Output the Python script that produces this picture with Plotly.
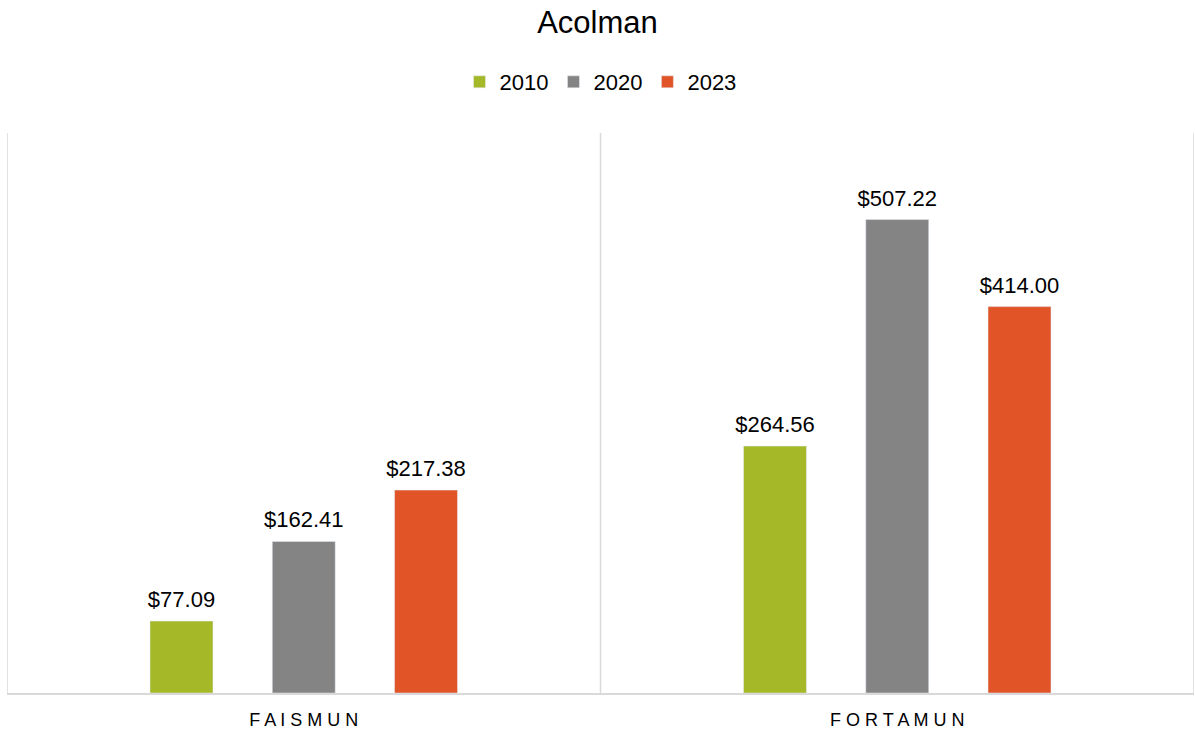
import plotly.graph_objects as go

categories = ["FAISMUN", "FORTAMUN"]
years = ["2010", "2020", "2023"]
values_2010 = [77.09, 264.56]
values_2020 = [162.41, 507.22]
values_2023 = [217.38, 414.00]
colors = ["#A5B828", "#848484", "#E05428"]

series = [values_2010, values_2020, values_2023]
ticktext = [" ".join(c) for c in categories]

fig = go.Figure()
for name, vals, col in zip(years, series, colors):
    fig.add_trace(go.Bar(
        x=categories, y=vals, name=name, marker_color=col,
        offsetgroup=name, hoverinfo="skip",
    ))
for name, vals in zip(years, series):
    fig.add_trace(go.Scatter(
        x=categories, y=vals, mode="markers+text", offsetgroup=name,
        marker=dict(size=12, opacity=0), text=[f"${v:.2f}" for v in vals],
        textposition="top center", textfont=dict(size=22, color="#000000"),
        showlegend=False, hoverinfo="skip", cliponaxis=False,
    ))

for xb in [-0.5, 0.5, 1.5]:
    fig.add_shape(type="line", xref="x", yref="paper", x0=xb, x1=xb, y0=0, y1=1,
                  line=dict(color="#D9D9D9", width=1.5))

fig.update_layout(
    width=1195, height=731,
    paper_bgcolor="white", plot_bgcolor="white",
    font=dict(family="Liberation Sans, Arial, sans-serif", color="#000000"),
    title=dict(text="Acolman", x=0.5, xanchor="center", y=0.97, yanchor="middle",
               font=dict(size=31, color="#000000")),
    legend=dict(orientation="h", x=0.5, xanchor="center", y=1.091, yanchor="middle",
                font=dict(size=22), traceorder="normal", itemwidth=30),
    margin=dict(l=7, r=1, t=133, b=38),
    barmode="group", scattermode="group",
    bargap=0.382, bargroupgap=0.485, scattergap=0.382,
    showlegend=True,
)
fig.update_xaxes(tickvals=categories, ticktext=ticktext, showline=True, linecolor="#D9D9D9",
                 linewidth=2, tickfont=dict(size=18, color="#000000"), showgrid=False,
                 range=[-0.5, 1.5], ticks="", ticklabelstandoff=9)
fig.update_yaxes(range=[0, 600], visible=False, showgrid=False)

fig.write_html("out.html", config={"displayModeBar": False},
               post_script="document.body.style.margin='0';document.body.style.overflow='hidden';")
